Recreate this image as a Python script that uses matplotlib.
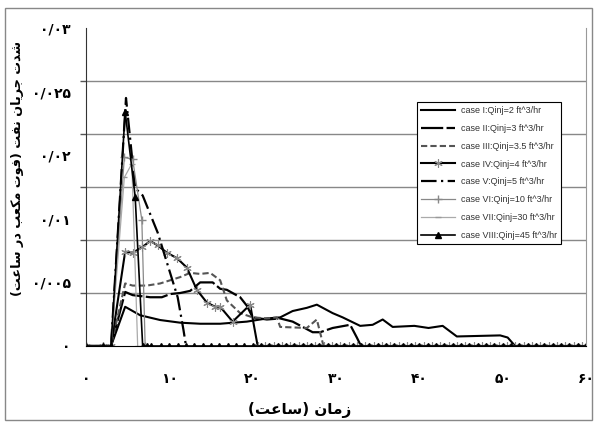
import numpy as np
import matplotlib
matplotlib.use("Agg")
import matplotlib.pyplot as plt
from matplotlib.patches import Rectangle

# time (hours) and oil rate (ft^3/hr)
t_1 = [0, 2, 3, 4.7, 6.5, 8.9, 11.3, 13.7, 16.1, 19.3, 21.7, 23.3, 24.8, 26.5, 27.7, 29.6,
       30.8, 32.9, 34.4, 35.6, 36.8, 39.4, 41.1, 42.8, 44.5, 49.7, 50.6, 51.5, 60]
q_1 = [0, 0, 0, 0.0037, 0.0029, 0.00245, 0.0022, 0.0021, 0.0021, 0.0023, 0.0026, 0.0027, 0.0033,
       0.0036, 0.0039, 0.0031, 0.0027, 0.0019, 0.0020, 0.0025, 0.0018, 0.0019, 0.0017, 0.0019,
       0.0009, 0.0010, 0.0008, 0, 0]

t_2 = [0, 2, 3, 4.7, 5.6, 7.7, 9.1, 10.1, 11.3, 12.5, 13.7, 15.2, 16.1, 16.9, 18.5, 19.3, 20.0,
       21.7, 23.3, 24.8, 27.2, 28.1, 29.6, 31.7, 32.5, 33.0]
q_2 = [0, 0, 0, 0.0051, 0.0048, 0.0046, 0.0046, 0.0049, 0.0050, 0.0052, 0.0060, 0.0060, 0.0054,
       0.0053, 0.0046, 0.0038, 0.0027, 0.0025, 0.0026, 0.0023, 0.0013, 0.0013, 0.0017, 0.0020,
       0.0008, 0]

t_3 = [0, 2, 3, 4.7, 5.6, 7.3, 8.9, 10.1, 11.3, 12.5, 13.7, 14.9, 16.1, 16.9, 18.5, 20.0, 21.7,
       22.9, 23.3, 26.5, 27.7, 28.5]
q_3 = [0, 0, 0, 0.0059, 0.0057, 0.0057, 0.0059, 0.0062, 0.0065, 0.0069, 0.0068, 0.0069, 0.0062,
       0.0043, 0.0031, 0.0027, 0.0026, 0.0027, 0.0018, 0.0017, 0.0025, 0]

t_4 = [0, 2, 3, 4.7, 5.6, 6.7, 7.7, 8.6, 9.7, 10.9, 12.1, 13.3, 14.5, 15.5, 16.1, 17.6, 19.7, 20.6]
q_4 = [0, 0, 0, 0.0089, 0.0088, 0.0093, 0.0099, 0.0095, 0.0088, 0.0083, 0.0074, 0.0053, 0.0041,
       0.0037, 0.0037, 0.0023, 0.0039, 0]

t_5 = [0, 2, 3, 4.8, 5.9, 6.8, 8.6, 9.7, 11.0, 11.7, 12.0]
q_5 = [0, 0, 0, 0.0234, 0.0149, 0.0142, 0.0107, 0.0079, 0.0046, 0.0015, 0]

t_6 = [0, 2, 3, 4.6, 5.6, 6.7, 7.1]
q_6 = [0, 0, 0, 0.0178, 0.0176, 0.0119, 0]

t_7 = [0, 2, 3, 4.6, 5.5, 6.2]
q_7 = [0, 0, 0, 0.0159, 0.0172, 0]

t_8 = [0, 2, 3, 4.7, 5.9, 6.8, 7.3, 7.8]
q_8 = [0, 0, 0, 0.0221, 0.0141, 0, 0, 0]

# zero tails along the baseline (hourly samples)
t_4_tail = list(np.arange(21.5, 60, 1.0))
t_8_tail = list(range(9, 61))

labels = ["case I:Qinj=2 ft^3/hr", "case II:Qinj=3 ft^3/hr", "case III:Qinj=3.5 ft^3/hr",
          "case IV:Qinj=4 ft^3/hr", "case V:Qinj=5 ft^3/hr", "case VI:Qinj=10 ft^3/hr",
          "case VII:Qinj=30 ft^3/hr", "case VIII:Qinj=45 ft^3/hr"]

x_ticks = [0, 10, 20, 30, 40, 50, 60]
x_ticklabels = ["۰", "۱۰", "۲۰", "۳۰", "۴۰", "۵۰", "۶۰"]
y_ticklabels = ["۰", "۰/۰۰۵", "۰/۰۱", "۰/۰۲", "۰/۰۲۵", "۰/۰۳"]

# pre-shaped Persian labels (presentation forms, visual order)
xlabel = "(\uFE96\uFECB\uFE8E\uFEB3) \uFEE5\uFE8E\uFEE3\uFEAF"
ylabel = ("(\uFE96\uFECB\uFE8E\uFEB3 \uFEAD\uFEA9 \uFE90\uFECC\uFEDC\uFEE3 \uFE95\uFEEE\uFED3) "
          "\uFE96\uFED4\uFEE7 \uFEE5\uFE8E\uFEF3\uFEAE\uFE9F \uFE95\uFEAA\uFEB7")

fig = plt.figure(figsize=(5.96, 4.22), dpi=100)
ax = fig.add_axes([86 / 596, 1 - 346 / 422, 500 / 596, 318 / 422])

ax.plot(t_1, q_1, color="black", lw=1.5, label=labels[0])
ax.plot(t_2, q_2, color="black", lw=1.6, dashes=(10, 1.5), label=labels[1])
ax.plot(t_3, q_3, color="#555555", lw=1.5, dashes=(3, 1.5), label=labels[2])
ax.plot(t_4 + t_4_tail, q_4 + [0] * len(t_4_tail), color="black", lw=1.5,
        marker=(6, 2, 0), ms=6, mec="#888888", mew=0.8, label=labels[3])
ax.plot(t_5, q_5, color="black", lw=1.6, dashes=(7, 2, 1, 2), label=labels[4])
ax.plot(t_6, q_6, color="#888888", lw=0.9, marker="+", ms=6, mec="#888888", label=labels[5])
ax.plot(t_7, q_7, color="#aaaaaa", lw=0.9, marker="_", ms=5, mec="#999999", label=labels[6])
ax.plot(t_8 + t_8_tail, q_8 + [0] * len(t_8_tail), color="black", lw=1.2,
        marker="^", ms=4, label=labels[7])

ax.set_xlim(0, 60)
ax.set_ylim(0, 0.03)

ax.set_xticks(x_ticks)
ax.set_xticklabels(x_ticklabels, fontsize=10, fontweight="bold")
ax.tick_params(axis="x", length=0, pad=19)

ax.set_yticks(np.linspace(0, 0.03, 6))
ax.set_yticklabels(y_ticklabels, fontsize=10, fontweight="bold")
ax.set_yticks(np.arange(0, 0.0301, 0.005), minor=True)
ax.tick_params(axis="y", which="major", length=0, pad=11)
ax.tick_params(axis="y", which="minor", length=4, width=1, color="#555555")
ax.grid(True, axis="y", which="minor", color="#888888", lw=1)
ax.set_axisbelow(True)

ax.spines["top"].set_visible(False)
ax.spines["right"].set_color("#999999")
ax.spines["left"].set_color("#333333")
ax.spines["bottom"].set_color("black")

fig.text(300 / 596, 1 - 410 / 422, xlabel, ha="center", va="center", fontsize=11,
         fontweight="bold")
fig.text(18 / 596, 1 - 168 / 422, ylabel, ha="center", va="center", rotation=90,
         fontsize=9.2, fontweight="bold")

leg = ax.legend(loc="upper left", bbox_to_anchor=(417 / 596, 1 - 102 / 422),
                bbox_transform=fig.transFigure, borderaxespad=0, fancybox=False,
                framealpha=1, edgecolor="black", prop={"family": "Liberation Sans", "size": 6.5},
                handlelength=3.8, labelspacing=0.98, handletextpad=0.6, borderpad=0.45)
leg.get_frame().set_linewidth(0.8)
for txt in leg.get_texts():
    txt.set_color("#333333")

fig.patches.append(Rectangle((5 / 596, 2 / 422), 587 / 596, 412 / 422,
                             transform=fig.transFigure, fill=False, edgecolor="#888888", lw=1))

fig.savefig("out.png", dpi=100)
